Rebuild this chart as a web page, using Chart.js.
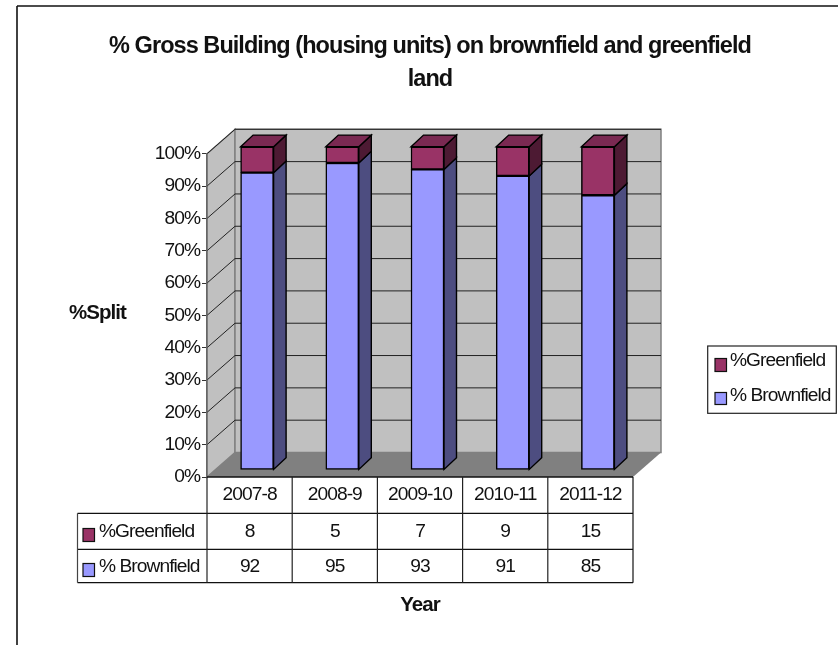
<!DOCTYPE html>
<html>
<head>
<meta charset="utf-8">
<title>Gross Building</title>
<script src="https://cdn.jsdelivr.net/npm/chart.js@4/dist/chart.umd.min.js"></script>
<style>
  html, body { margin: 0; background: #fff; }
  canvas { display: block; }
</style>
</head>
<body>
<canvas id="buildingChart" width="838" height="645"></canvas>
<script>
// Data
const categories = ["2007-8", "2008-9", "2009-10", "2010-11", "2011-12"];
const brownfield = [92, 95, 93, 91, 85];
const greenfield = [8, 5, 7, 9, 15];
const titleLines = ["% Gross Building (housing units) on brownfield and greenfield", "land"];

// Colours
const BROWN_FACE = "#9999ff", BROWN_SIDE = "#4d4d80";
const GREEN_FACE = "#993366", GREEN_SIDE = "#4d1a33", GREEN_TOP = "#7a2952";
const WALL = "#c0c0c0", FLOOR = "#808080", INK = "#111";

// Fake 3D depth: whole box, where the bars start in it, and bar thickness
const BOX_DX = 28, BOX_DY = -24.5;
const BAR_DX = 7.5, BAR_DY = -7;
const SIDE_DX = 12.5, SIDE_DY = -11.7;

const FONT = "Liberation Sans, Arial, sans-serif";
const TEXT_SIZE = 19.2;
const TABLE_LEFT = 77.5, ROWS = [513.3, 549.3, 582.7];

function poly(ctx, pts, fill, stroke, lw) {
  ctx.beginPath();
  pts.forEach((p, i) => (i ? ctx.lineTo(p[0], p[1]) : ctx.moveTo(p[0], p[1])));
  ctx.closePath();
  if (fill) { ctx.fillStyle = fill; ctx.fill(); }
  if (stroke) { ctx.strokeStyle = stroke; ctx.lineWidth = lw || 1; ctx.stroke(); }
}

function line(ctx, x1, y1, x2, y2, color, lw) {
  ctx.beginPath();
  ctx.moveTo(x1, y1);
  ctx.lineTo(x2, y2);
  ctx.strokeStyle = color;
  ctx.lineWidth = lw || 1;
  ctx.stroke();
}

function label(ctx, text, x, y, align, font) {
  ctx.font = font || TEXT_SIZE + "px " + FONT;
  ctx.fillStyle = INK;
  ctx.textAlign = align;
  ctx.textBaseline = "middle";
  ctx.fillText(text, x, y);
}

function key(ctx, x, y, w, h, color) {
  ctx.fillStyle = color;
  ctx.fillRect(x, y, w, h);
  ctx.strokeStyle = "#111";
  ctx.lineWidth = 1.2;
  ctx.strokeRect(x, y, w, h);
}

// Walls, floor and gridlines go behind everything else
const box3d = {
  id: "box3d",
  beforeDraw(chart) {
    const ctx = chart.ctx;
    const { left, right, top, bottom } = chart.chartArea;
    const y = chart.scales.y;
    // all labels are set tight
    ctx.letterSpacing = "-0.95px";

    // frame of the chart object: only top and left edges are in view
    line(ctx, 17, 6, 838, 6, "#111", 1.6);
    line(ctx, 17, 6, 17, 645, "#111", 1.6);

    poly(ctx, [[left, bottom], [left, top], [left + BOX_DX, top + BOX_DY], [left + BOX_DX, bottom + BOX_DY]], WALL, "#808080", 1.5);
    poly(ctx, [[left + BOX_DX, top + BOX_DY], [right + BOX_DX, top + BOX_DY], [right + BOX_DX, bottom + BOX_DY], [left + BOX_DX, bottom + BOX_DY]], WALL, "#808080", 1.5);
    poly(ctx, [[left, bottom], [right, bottom], [right + BOX_DX, bottom + BOX_DY], [left + BOX_DX, bottom + BOX_DY]], FLOOR);

    y.ticks.forEach(t => {
      if (t.value === 0) return;
      const py = y.getPixelForValue(t.value);
      line(ctx, left, py, left + BOX_DX, py + BOX_DY, "#222");
      line(ctx, left + BOX_DX, py + BOX_DY, right + BOX_DX, py + BOX_DY, "#222");
    });
  },
  beforeDatasetsDraw(chart) {
    chart.ctx.save();
    chart.ctx.translate(BAR_DX, BAR_DY);
  },
  afterDatasetsDraw(chart) {
    const ctx = chart.ctx;
    chart.data.datasets.forEach((ds, d) => {
      chart.getDatasetMeta(d).data.forEach(el => {
        const { x, y, base, width } = el.getProps(["x", "y", "base", "width"], true);
        const l = x - width / 2, r = x + width / 2;
        poly(ctx, [[r, y], [r + SIDE_DX, y + SIDE_DY], [r + SIDE_DX, base + SIDE_DY], [r, base]], ds.sideColor, "#000", 1.4);
        if (d === chart.data.datasets.length - 1) {
          poly(ctx, [[l, y], [l + SIDE_DX, y + SIDE_DY], [r + SIDE_DX, y + SIDE_DY], [r, y]], GREEN_TOP, "#000", 1.4);
        }
      });
    });
    ctx.restore();
  },
  afterLayout(chart) {
    // the title is centred over the frame, not over the plot
    chart.titleBlock.left = 22;
    chart.titleBlock.right = 838;
  },
  // Data table, value axis caption and legend
  afterDraw(chart) {
    const ctx = chart.ctx;
    const x = chart.scales.x;
    const { left, right, bottom } = chart.chartArea;
    const step = (right - left) / categories.length;

    line(ctx, left, bottom, right, bottom, "#111", 1.6);
    ROWS.forEach(r => line(ctx, TABLE_LEFT, r, right, r, "#111", 1.2));
    line(ctx, TABLE_LEFT, ROWS[0], TABLE_LEFT, ROWS[2], "#444", 1.2);
    categories.forEach((c, i) => {
      line(ctx, left + i * step, bottom, left + i * step, ROWS[2], "#222", 1.2);
      label(ctx, String(greenfield[i]), x.getPixelForValue(i), 531.5, "center");
      label(ctx, String(brownfield[i]), x.getPixelForValue(i), 566.5, "center");
    });
    line(ctx, right, bottom, right, ROWS[2], "#111", 1.2);

    key(ctx, 83, 528.5, 11.5, 13, GREEN_FACE);
    key(ctx, 83, 563.5, 11.5, 13, BROWN_FACE);
    label(ctx, "%Greenfield", 99, 532, "left");
    label(ctx, "% Brownfield", 99, 566.5, "left");

    label(ctx, "%Split", 97.5, 313, "center", "bold 20.5px " + FONT);

    ctx.strokeStyle = "#222";
    ctx.lineWidth = 1.2;
    ctx.strokeRect(707.7, 346, 128.6, 67.3);
    key(ctx, 715, 358.5, 11.5, 13, GREEN_FACE);
    key(ctx, 715, 392.5, 11.5, 12, BROWN_FACE);
    label(ctx, "%Greenfield", 730, 361, "left");
    label(ctx, "% Brownfield", 730, 396, "left");
  }
};

new Chart(document.getElementById("buildingChart"), {
  type: "bar",
  data: {
    labels: categories,
    datasets: [
      { label: "% Brownfield", data: brownfield, backgroundColor: BROWN_FACE, sideColor: BROWN_SIDE, borderColor: "#000", borderWidth: 1.5, borderSkipped: false, barThickness: 33, clip: false },
      { label: "%Greenfield", data: greenfield, backgroundColor: GREEN_FACE, sideColor: GREEN_SIDE, borderColor: "#000", borderWidth: 1.5, borderSkipped: false, barThickness: 33, clip: false }
    ]
  },
  options: {
    responsive: false,
    animation: false,
    layout: { padding: { left: 0, right: 205, top: 0, bottom: 0 } },
    plugins: {
      legend: { display: false },
      tooltip: { enabled: false },
      title: {
        display: true,
        text: titleLines,
        color: INK,
        font: { family: FONT, size: 23.5, weight: "bold", lineHeight: 1.4 },
        padding: { top: 30, bottom: 58 }
      }
    },
    scales: {
      x: {
        stacked: true,
        grid: { display: false, drawTicks: false },
        border: { display: false },
        afterFit(s) { s.height = 168; },
        ticks: { color: INK, font: { family: FONT, size: TEXT_SIZE }, padding: 6, maxRotation: 0, autoSkip: false },
        title: { display: true, text: "Year", color: INK, font: { family: FONT, size: 20.5, weight: "bold" }, padding: { top: 0, bottom: 27 } }
      },
      y: {
        stacked: true,
        min: 0,
        max: 100,
        afterFit(s) { s.width = 207; },
        grid: { drawOnChartArea: false, color: "#333", tickLength: 5 },
        border: { color: "#666", width: 1.5 },
        ticks: { stepSize: 10, color: INK, font: { family: FONT, size: TEXT_SIZE }, padding: 2, callback: v => v + "%" }
      }
    }
  },
  plugins: [box3d]
});
</script>
</body>
</html>
